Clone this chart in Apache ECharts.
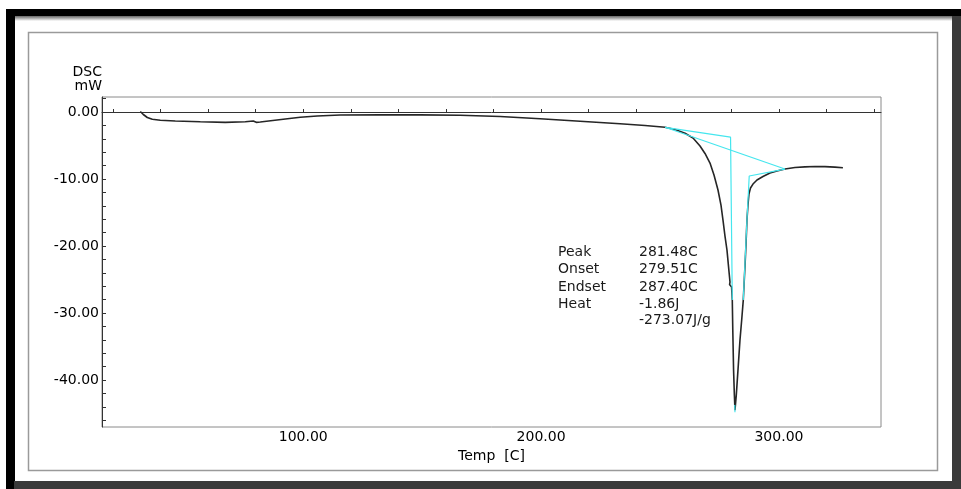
<!DOCTYPE html>
<html>
<head>
<meta charset="utf-8">
<script src="https://cdn.jsdelivr.net/npm/echarts@6/dist/echarts.min.js"></script>
<style>
  html, body { margin: 0; padding: 0; background: #fff; }
  #chart { width: 961px; height: 489px; }
</style>
</head>
<body>
<div id="chart"></div>
<script>
// DSC trace, temperature in C and heat flow in mW
const tempC = [
  31.51, 32.77, 34.45, 36.55, 39.92, 46.22, 56.72, 67.23, 75.63, 78.99,
  80.25, 81.93, 91.60, 98.74, 105.88, 115.55, 132.35, 149.16, 165.97, 182.77,
  199.58, 216.39, 233.19, 243.70, 252.10, 256.30, 260.50, 263.87, 266.81, 268.91,
  271.01, 272.69, 274.37, 275.63, 276.47, 277.31, 278.15, 278.78, 279.41, 279.24,
  280.08, 280.38, 280.59, 280.92, 281.26, 281.51, 282.06, 282.77, 283.61, 284.33,
  285.00, 285.42, 285.84, 286.22, 286.55, 286.97, 287.39, 288.03, 289.08, 290.76,
  293.28, 296.22, 299.16, 302.52, 306.72, 310.92, 315.13, 319.33, 323.53, 326.89
];
const dscMw = [
  0.07, -0.37, -0.82, -1.09, -1.24, -1.34, -1.46, -1.54, -1.46, -1.34,
  -1.54, -1.49, -1.09, -0.79, -0.60, -0.45, -0.40, -0.42, -0.48, -0.67,
  -1.01, -1.37, -1.76, -2.01, -2.28, -2.62, -3.16, -3.88, -5.07, -6.19,
  -7.61, -9.40, -11.64, -13.88, -16.12, -18.51, -20.60, -22.99, -25.37, -25.75,
  -26.12, -28.06, -32.54, -38.51, -42.24, -44.48, -42.24, -38.51, -34.03, -31.04,
  -28.06, -25.07, -22.09, -19.10, -16.12, -13.88, -12.24, -11.34, -10.75, -10.15,
  -9.63, -9.10, -8.81, -8.51, -8.28, -8.18, -8.13, -8.15, -8.22, -8.31
];

// analysis construction lines (cyan)
const onsetT = [252.10, 279.65, 280.38];
const onsetMw = [-2.28, -3.76, -28.06];
const baseT = [252.10, 302.52];
const baseMw = [-2.28, -8.51];
const endsetT = [302.52, 287.50, 286.55, 285.00];
const endsetMw = [-8.51, -9.55, -16.12, -28.06];
const tipT = [281.40, 281.51];
const tipMw = [-43.7, -44.8];

// axes
const xLabels = [100, 200, 300];
const xTicks = [20, 40, 60, 80, 100, 120, 140, 160, 180, 200, 220, 240, 260, 280, 300, 320, 340];
const yLabels = [0, -10, -20, -30, -40];
const yTicks = [2, 0, -2, -4, -6, -8, -10, -12, -14, -16, -18, -20, -22, -24, -26, -28, -30,
  -32, -34, -36, -38, -40, -42, -44, -46];

// result block
const resultNames = ['Peak', 'Onset', 'Endset', 'Heat', ''];
const resultValues = ['281.48C', '279.51C', '287.40C', '-1.86J', '-273.07J/g'];

const pair = (xs, ys) => xs.map((x, i) => [x, ys[i]]);
const font = '"DejaVu Sans", sans-serif';

let chart = echarts.init(document.getElementById('chart'));

let graphics = [
  { type: 'rect', z: -5, silent: true, shape: { x: 6, y: 9, width: 955, height: 480 }, style: { fill: '#000' } },
  { type: 'rect', z: -4, silent: true, shape: { x: 14, y: 481, width: 947, height: 8 }, style: { fill: '#3a3a3a' } },
  { type: 'rect', z: -4, silent: true, shape: { x: 952, y: 16, width: 9, height: 473 }, style: { fill: '#3a3a3a' } },
  { type: 'rect', z: -3, silent: true, shape: { x: 15, y: 16, width: 937, height: 465 }, style: { fill: '#fff' } },
  {
    type: 'rect', z: -2, silent: true, shape: { x: 15, y: 16, width: 937, height: 5 },
    style: {
      fill: new echarts.graphic.LinearGradient(0, 0, 0, 1, [
        { offset: 0, color: '#666' }, { offset: 1, color: '#fff' }
      ])
    }
  },
  { type: 'rect', z: -2, silent: true, shape: { x: 28.5, y: 32.5, width: 909, height: 438 },
    style: { fill: null, stroke: '#9a9a9a', lineWidth: 1.5 } }
];
const rowY = [252, 269, 287, 304, 320];
resultNames.forEach((name, i) => {
  graphics.push({ type: 'text', z: 10, x: 558, y: rowY[i],
    style: { text: name, font: '14px ' + font, fill: '#1a1a1a', verticalAlign: 'middle' } });
  graphics.push({ type: 'text', z: 10, x: 639, y: rowY[i],
    style: { text: resultValues[i], font: '14px ' + font, fill: '#1a1a1a', verticalAlign: 'middle' } });
});

let cyan = (name, data) => ({
  name: name,
  type: 'line',
  data: data,
  showSymbol: false,
  silent: true,
  z: 4,
  lineStyle: { color: '#45e6ee', width: 1.2 }
});

let option = {
  backgroundColor: '#fff',
  animation: false,
  textStyle: { fontFamily: font },
  graphic: graphics,
  grid: {
    left: 102, right: 80, top: 97, bottom: 62,
    show: true, borderColor: '#8a8a8a', borderWidth: 1,
    outerBoundsMode: 'none'
  },
  xAxis: {
    type: 'value',
    min: 15.4,
    max: 342.9,
    name: 'Temp  [C]',
    nameLocation: 'middle',
    nameGap: 14,
    nameTextStyle: { color: '#000', fontSize: 14, fontFamily: font },
    splitLine: { show: false },
    axisLine: { lineStyle: { color: '#333', width: 1 } },
    axisTick: { inside: true, length: 3, customValues: xTicks, lineStyle: { color: '#333' } },
    axisLabel: {
      customValues: xLabels, margin: 3, color: '#000', fontSize: 14, fontFamily: font,
      formatter: (v) => v.toFixed(2)
    }
  },
  yAxis: {
    type: 'value',
    min: -47.0,
    max: 2.24,
    name: 'DSC\nmW',
    nameLocation: 'end',
    nameGap: 4,
    nameTextStyle: { color: '#000', fontSize: 14, fontFamily: font, align: 'right', lineHeight: 14 },
    splitLine: { show: false },
    axisLine: { lineStyle: { color: '#333', width: 1 } },
    axisTick: { inside: true, length: 4, customValues: yTicks, lineStyle: { color: '#333' } },
    axisLabel: {
      customValues: yLabels, margin: 3, color: '#000', fontSize: 14, fontFamily: font,
      formatter: (v) => v.toFixed(2)
    }
  },
  series: [
    {
      name: 'DSC',
      type: 'line',
      data: pair(tempC, dscMw),
      showSymbol: false,
      silent: true,
      z: 3,
      lineStyle: { color: '#262626', width: 1.6 }
    },
    cyan('onset', pair(onsetT, onsetMw)),
    cyan('baseline', pair(baseT, baseMw)),
    cyan('endset', pair(endsetT, endsetMw)),
    cyan('peak', pair(tipT, tipMw))
  ]
};

chart.setOption(option, true);
window.addEventListener('resize', () => {
  if (!chart) return
  chart.resize()
})
</script>
</body>
</html>
